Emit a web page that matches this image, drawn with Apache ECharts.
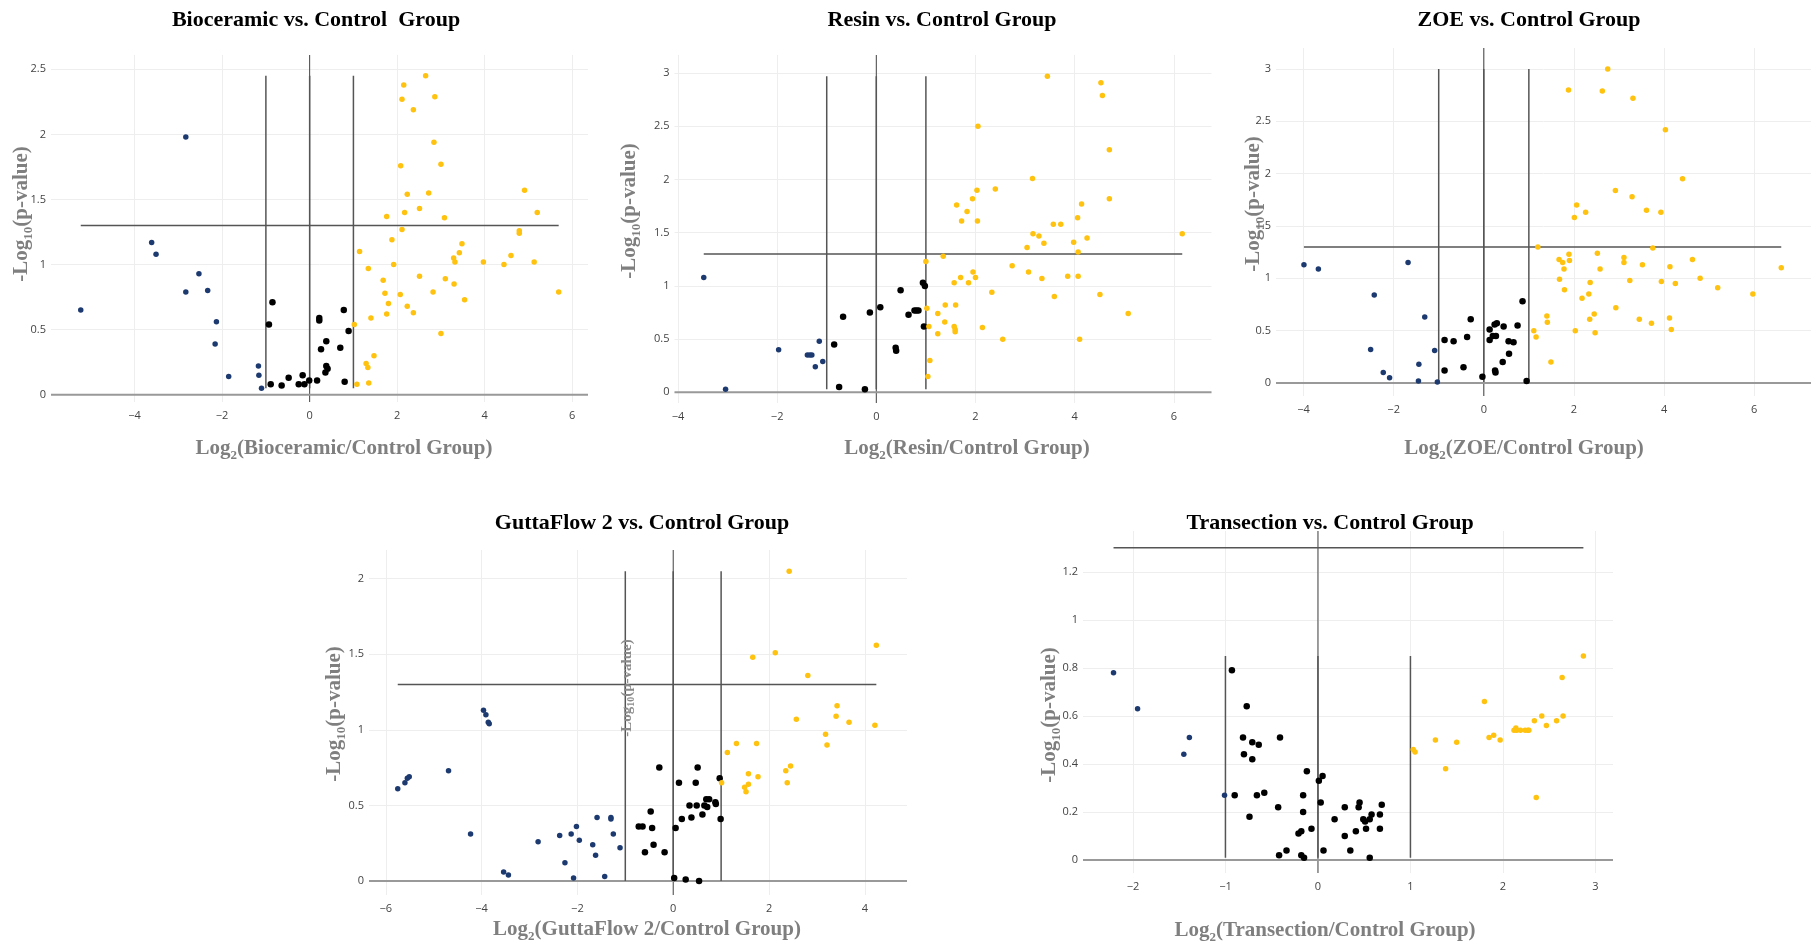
<!DOCTYPE html>
<html>
<head>
<meta charset="utf-8">
<script src="https://cdn.jsdelivr.net/npm/echarts@6/dist/echarts.min.js"></script>
<style>html,body{margin:0;padding:0;background:#fff;}#chart{width:1811px;height:946px;}</style>
</head>
<body>
<div id="chart"></div>
<script>
// ---------- DATA ----------
const pThreshold = 1.3;
const fcThresholds = [-1, 0, 1];

// Bioceramic
const bioBlue = [[-5.23,0.65],[-2.83,1.98],[-3.61,1.17],[-3.51,1.08],[-2.53,0.93],[-2.83,0.79],[-2.33,0.80],[-2.13,0.56],[-2.16,0.39],[-1.85,0.14],[-1.17,0.22],[-1.16,0.15],[-1.10,0.05]];
const bioBlack = [[-0.85,0.71],[-0.93,0.54],[-0.89,0.08],[-0.64,0.07],[-0.48,0.13],[-0.25,0.08],[-0.16,0.15],[-0.12,0.08],[-0.01,0.11],[0.17,0.11],[0.22,0.59],[0.22,0.57],[0.26,0.35],[0.38,0.41],[0.36,0.17],[0.38,0.22],[0.41,0.20],[0.70,0.36],[0.78,0.65],[0.89,0.49],[0.80,0.10]];
const bioYellow = [[1.02,0.54],[1.08,0.08],[1.14,1.10],[1.34,0.97],[1.40,0.59],[1.29,0.24],[1.33,0.21],[1.35,0.09],[1.47,0.30],[1.68,0.88],[1.72,0.78],[1.76,1.37],[1.76,0.62],[1.80,0.70],[1.88,1.19],[1.92,1.00],[2.08,1.76],[2.07,0.77],[2.11,1.27],[2.11,2.27],[2.15,2.38],[2.17,1.40],[2.23,1.54],[2.23,0.68],[2.37,2.19],[2.37,0.63],[2.51,1.43],[2.51,0.91],[2.65,2.45],[2.72,1.55],[2.82,0.79],[2.84,1.94],[2.86,2.29],[3.00,1.77],[3.00,0.47],[3.08,1.36],[3.10,0.89],[3.29,1.05],[3.32,1.02],[3.30,0.85],[3.42,1.09],[3.48,1.16],[3.54,0.73],[3.97,1.02],[4.44,1.00],[4.60,1.07],[4.79,1.26],[4.79,1.24],[4.91,1.57],[5.13,1.02],[5.20,1.40],[5.69,0.79]];

// Resin
const resinBlue = [[-3.48,1.08],[-3.04,0.03],[-1.97,0.40],[-1.39,0.35],[-1.34,0.35],[-1.30,0.35],[-1.23,0.24],[-1.15,0.48],[-1.08,0.29]];
const resinBlack = [[-0.85,0.45],[-0.75,0.05],[-0.67,0.71],[-0.23,0.03],[-0.13,0.75],[0.08,0.80],[0.39,0.42],[0.40,0.39],[0.49,0.96],[0.65,0.73],[0.77,0.77],[0.81,0.77],[0.85,0.77],[0.94,1.03],[0.98,1.00],[0.96,0.62]];
const resinYellow = [[1.00,1.23],[1.02,0.79],[1.04,0.15],[1.06,0.62],[1.08,0.30],[1.24,0.74],[1.24,0.55],[1.35,1.28],[1.39,0.82],[1.38,0.66],[1.57,1.03],[1.57,0.62],[1.59,0.59],[1.59,0.57],[1.60,0.82],[1.62,1.76],[1.70,1.08],[1.72,1.61],[1.83,1.70],[1.86,1.03],[1.94,1.82],[1.95,1.13],[2.00,1.08],[2.03,1.90],[2.04,1.61],[2.05,2.50],[2.14,0.61],[2.33,0.94],[2.40,1.91],[2.55,0.50],[2.74,1.19],[3.04,1.36],[3.07,1.13],[3.15,2.01],[3.16,1.49],[3.28,1.47],[3.34,1.07],[3.38,1.40],[3.45,2.97],[3.57,1.58],[3.59,0.90],[3.72,1.58],[3.86,1.09],[3.98,1.41],[4.06,1.64],[4.07,1.09],[4.07,1.32],[4.10,0.50],[4.14,1.77],[4.25,1.45],[4.51,0.92],[4.53,2.91],[4.56,2.79],[4.70,2.28],[4.70,1.82],[5.08,0.74],[6.17,1.49]];

// ZOE
const zoeBlue = [[-3.99,1.13],[-3.67,1.09],[-1.68,1.15],[-2.43,0.84],[-1.31,0.63],[-2.51,0.32],[-1.09,0.31],[-1.44,0.18],[-2.23,0.10],[-2.09,0.05],[-1.45,0.02],[-1.03,0.01]];
const zoeBlack = [[-0.87,0.41],[-0.67,0.40],[-0.87,0.12],[-0.45,0.15],[-0.37,0.44],[-0.29,0.61],[-0.03,0.06],[0.13,0.51],[0.13,0.41],[0.20,0.45],[0.24,0.56],[0.29,0.57],[0.27,0.45],[0.25,0.12],[0.26,0.10],[0.44,0.54],[0.42,0.20],[0.55,0.40],[0.56,0.28],[0.66,0.39],[0.75,0.55],[0.86,0.78],[0.95,0.02]];
const zoeYellow = [[1.11,0.50],[1.16,0.44],[1.20,1.30],[1.40,0.64],[1.41,0.58],[1.49,0.20],[1.67,1.18],[1.68,0.99],[1.75,1.15],[1.78,1.09],[1.79,0.89],[1.88,2.80],[1.89,1.23],[1.90,1.17],[2.01,1.58],[2.03,0.50],[2.06,1.70],[2.18,0.81],[2.26,1.63],[2.33,0.85],[2.35,0.61],[2.36,0.96],[2.45,0.66],[2.47,0.48],[2.52,1.24],[2.58,1.09],[2.63,2.79],[2.75,3.00],[2.92,1.84],[2.93,0.72],[3.11,1.20],[3.11,1.15],[3.24,0.98],[3.29,1.78],[3.31,2.72],[3.45,0.61],[3.52,1.13],[3.61,1.65],[3.72,0.57],[3.75,1.29],[3.93,1.63],[3.94,0.97],[4.03,2.42],[4.12,0.62],[4.13,1.11],[4.16,0.51],[4.25,0.95],[4.41,1.95],[4.63,1.18],[4.80,1.00],[5.19,0.91],[5.97,0.85],[6.60,1.10]];

// GuttaFlow 2
const guttaBlue = [[-5.75,0.61],[-5.60,0.65],[-5.55,0.68],[-5.51,0.69],[-4.69,0.73],[-4.23,0.31],[-3.96,1.13],[-3.91,1.10],[-3.86,1.05],[-3.84,1.04],[-3.54,0.06],[-3.44,0.04],[-2.82,0.26],[-2.37,0.30],[-2.26,0.12],[-2.13,0.31],[-2.02,0.36],[-2.08,0.02],[-1.96,0.27],[-1.68,0.24],[-1.62,0.17],[-1.59,0.42],[-1.43,0.03],[-1.30,0.42],[-1.30,0.41],[-1.25,0.31],[-1.11,0.22]];
const guttaBlack = [[-0.72,0.36],[-0.64,0.36],[-0.59,0.19],[-0.47,0.46],[-0.44,0.35],[-0.41,0.24],[-0.29,0.75],[-0.18,0.19],[0.02,0.02],[0.05,0.35],[0.12,0.65],[0.18,0.41],[0.26,0.01],[0.34,0.50],[0.38,0.42],[0.47,0.65],[0.49,0.50],[0.51,0.75],[0.54,0.00],[0.61,0.44],[0.65,0.50],[0.69,0.54],[0.71,0.49],[0.75,0.54],[0.88,0.52],[0.89,0.51],[0.97,0.68],[0.99,0.41]];
const guttaYellow = [[1.01,0.65],[1.13,0.85],[1.32,0.91],[1.49,0.62],[1.52,0.59],[1.57,0.64],[1.57,0.71],[1.66,1.48],[1.74,0.91],[1.77,0.69],[2.13,1.51],[2.35,0.73],[2.38,0.65],[2.42,2.05],[2.45,0.76],[2.57,1.07],[2.81,1.36],[3.18,0.97],[3.21,0.90],[3.40,1.09],[3.42,1.16],[3.67,1.05],[4.21,1.03],[4.24,1.56]];

// Transection
const transBlue = [[-2.21,0.78],[-1.95,0.63],[-1.39,0.51],[-1.45,0.44],[-1.01,0.27]];
const transBlack = [[-0.93,0.79],[-0.90,0.27],[-0.77,0.64],[-0.81,0.51],[-0.80,0.44],[-0.71,0.49],[-0.64,0.48],[-0.71,0.42],[-0.74,0.18],[-0.66,0.27],[-0.58,0.28],[-0.43,0.22],[-0.41,0.51],[-0.42,0.02],[-0.34,0.04],[-0.21,0.11],[-0.18,0.12],[-0.18,0.02],[-0.16,0.27],[-0.16,0.20],[-0.15,0.01],[-0.12,0.37],[-0.07,0.13],[0.01,0.33],[0.03,0.24],[0.05,0.35],[0.06,0.04],[0.18,0.17],[0.29,0.10],[0.29,0.22],[0.35,0.04],[0.41,0.12],[0.44,0.22],[0.45,0.24],[0.49,0.17],[0.51,0.16],[0.52,0.13],[0.56,0.17],[0.58,0.19],[0.56,0.01],[0.67,0.19],[0.67,0.13],[0.69,0.23]];
const transYellow = [[1.03,0.46],[1.05,0.45],[1.27,0.50],[1.38,0.38],[1.50,0.49],[1.80,0.66],[1.85,0.51],[1.90,0.52],[1.97,0.50],[2.12,0.54],[2.14,0.55],[2.15,0.54],[2.19,0.54],[2.24,0.54],[2.27,0.54],[2.28,0.54],[2.34,0.58],[2.36,0.26],[2.42,0.60],[2.47,0.56],[2.58,0.58],[2.64,0.76],[2.65,0.60],[2.87,0.85]];

// Tick labels
const ticksX6 = [-4, -2, 0, 2, 4, 6];
const ticksXGutta = [-6, -4, -2, 0, 2, 4];
const ticksXTrans = [-2, -1, 0, 1, 2, 3];
const ticksY25 = [0, 0.5, 1, 1.5, 2, 2.5];
const ticksY3 = [0, 0.5, 1, 1.5, 2, 2.5, 3];
const ticksY2 = [0, 0.5, 1, 1.5, 2];
const ticksYTrans = [0, 0.2, 0.4, 0.6, 0.8, 1, 1.2];

const groupNames = ['Bioceramic', 'Resin', 'ZOE', 'GuttaFlow 2', 'Transection'];
const titles = ['Bioceramic vs. Control  Group', 'Resin vs. Control Group', 'ZOE vs. Control Group', 'GuttaFlow 2 vs. Control Group', 'Transection vs. Control Group'];

// ---------- LAYOUT ----------
const panels = [
  {name: groupNames[0], title: titles[0], sets: [bioBlue, bioBlack, bioYellow], xTicks: ticksX6, yTicks: ticksY25,
   xr: [-5.91, 6.36], yr: [-0.056, 2.61], grid: {left: 51, top: 55, width: 537, height: 347},
   titlePos: [316, 20], xLab: [344, 449], yLab: [22, 214]},
  {name: groupNames[1], title: titles[1], sets: [resinBlue, resinBlack, resinYellow], xTicks: ticksX6, yTicks: ticksY3,
   xr: [-4.07, 6.76], yr: [-0.10, 3.17], grid: {left: 674.5, top: 55, width: 537, height: 348},
   titlePos: [942, 20], xLab: [967, 449], yLab: [630, 211]},
  {name: groupNames[2], title: titles[2], sets: [zoeBlue, zoeBlack, zoeYellow], xTicks: ticksX6, yTicks: ticksY3,
   xr: [-4.61, 7.26], yr: [-0.124, 3.20], grid: {left: 1276, top: 48, width: 535, height: 348},
   titlePos: [1529, 20], xLab: [1524, 449], yLab: [1254, 204]},
  {name: groupNames[3], title: titles[3], sets: [guttaBlue, guttaBlack, guttaYellow], xTicks: ticksXGutta, yTicks: ticksY2,
   xr: [-6.35, 4.88], yr: [-0.093, 2.19], grid: {left: 369, top: 550, width: 538, height: 345},
   titlePos: [642, 523], xLab: [647, 930], yLab: [335, 714]},
  {name: groupNames[4], title: titles[4], sets: [transBlue, transBlack, transYellow], xTicks: ticksXTrans, yTicks: ticksYTrans,
   xr: [-2.54, 3.19], yr: [-0.054, 1.37], grid: {left: 1083, top: 531, width: 530, height: 342},
   titlePos: [1330, 523], xLab: [1325, 931], yLab: [1050, 715]}
];

const colors = ['#1d3a70', '#000000', '#ffc20e'];
const sizes = [5.5, 6.5, 5.5];
const serif = '"Liberation Serif", "Times New Roman", serif';
const axisGray = '#7f7f7f';

function fmt(v) {
  const s = String(Math.round(Math.abs(v) * 100) / 100);
  return v < 0 ? '\u2212' + s : s;
}

const grids = [], xAxes = [], yAxes = [], series = [], graphics = [];

panels.forEach((p, i) => {
  grids.push(Object.assign({containLabel: false}, p.grid));
  xAxes.push({
    type: 'value', gridIndex: i, min: p.xr[0], max: p.xr[1],
    axisLine: {show: false}, axisTick: {show: false, customValues: p.xTicks},
    axisLabel: {customValues: p.xTicks, formatter: fmt, color: '#444', fontFamily: '"Open Sans", sans-serif', fontSize: 11, margin: 8},
    splitLine: {show: true, lineStyle: {color: '#eeeeee', width: 1}}
  });
  yAxes.push({
    type: 'value', gridIndex: i, min: p.yr[0], max: p.yr[1],
    axisLine: {show: false}, axisTick: {show: false, customValues: p.yTicks},
    axisLabel: {customValues: p.yTicks, formatter: fmt, color: '#444', fontFamily: '"Open Sans", sans-serif', fontSize: 11, margin: 5},
    splitLine: {show: true, lineStyle: {color: '#eeeeee', width: 1}}
  });

  const all = [].concat(p.sets[0], p.sets[1], p.sets[2]);
  const xs = all.map(d => d[0]), ys = all.map(d => d[1]);
  const dxMin = Math.min(...xs), dxMax = Math.max(...xs);
  const dyMin = Math.min(...ys), dyMax = Math.max(...ys);

  const lineSeries = (data, color, width, z) => ({
    type: 'line', xAxisIndex: i, yAxisIndex: i, data: data, symbol: 'none', showSymbol: false,
    silent: true, animation: false, z: z, lineStyle: {color: color, width: width}
  });
  // zero lines (full extent)
  series.push(lineSeries([[0, p.yr[0]], [0, p.yr[1]]], '#444', 1, 1));
  series.push(lineSeries([[p.xr[0], 0], [p.xr[1], 0]], '#999', 2, 1));
  // threshold lines spanning the data
  series.push(lineSeries([[dxMin, pThreshold], [dxMax, pThreshold]], '#555', 1.5, 1));
  fcThresholds.forEach(t => series.push(lineSeries([[t, dyMin], [t, dyMax]], '#555', 1.5, 1)));

  p.sets.forEach((set, k) => {
    series.push({
      type: 'scatter', xAxisIndex: i, yAxisIndex: i, data: set, symbol: 'circle', symbolSize: sizes[k],
      itemStyle: {color: colors[k], opacity: 1}, animation: false, z: 3
    });
  });

  graphics.push({
    type: 'text', x: p.titlePos[0], y: p.titlePos[1], z: 10,
    style: {text: p.title, fill: '#000', font: 'bold 22px ' + serif, align: 'center', verticalAlign: 'middle'}
  });
  graphics.push({
    type: 'text', x: p.xLab[0], y: p.xLab[1], z: 10,
    style: {
      text: '{a|Log}{s|2}{a|(' + p.name + '/Control Group)}',
      align: 'center', verticalAlign: 'middle',
      rich: {
        a: {fill: axisGray, fontFamily: serif, fontWeight: 'bold', fontSize: 21, lineHeight: 26, verticalAlign: 'middle'},
        s: {fill: axisGray, fontFamily: serif, fontWeight: 'bold', fontSize: 13, lineHeight: 16, verticalAlign: 'bottom'}
      }
    }
  });
  graphics.push({
    type: 'text', x: p.yLab[0], y: p.yLab[1], rotation: Math.PI / 2, z: 10,
    style: {
      text: '{a|-Log}{s|10}{a|(p-value)}',
      align: 'center', verticalAlign: 'middle',
      rich: {
        a: {fill: axisGray, fontFamily: serif, fontWeight: 'bold', fontSize: 21, lineHeight: 26, verticalAlign: 'middle'},
        s: {fill: axisGray, fontFamily: serif, fontWeight: 'bold', fontSize: 13, lineHeight: 16, verticalAlign: 'bottom'}
      }
    }
  });
});

// stray rotated label inside the GuttaFlow panel
graphics.push({
  type: 'text', x: 627, y: 688, rotation: Math.PI / 2, z: 10,
  style: {
    text: '{a|-Log}{s|10}{a|(p-value)}',
    align: 'center', verticalAlign: 'middle',
    rich: {
      a: {fill: '#8a8a8a', fontFamily: serif, fontWeight: 'bold', fontSize: 15, lineHeight: 18, verticalAlign: 'middle'},
      s: {fill: '#8a8a8a', fontFamily: serif, fontWeight: 'bold', fontSize: 10, lineHeight: 11, verticalAlign: 'bottom'}
    }
  }
});

const chart = echarts.init(document.getElementById('chart'), null, {renderer: 'canvas'});
chart.setOption({
  animation: false,
  backgroundColor: '#fff',
  grid: grids, xAxis: xAxes, yAxis: yAxes, series: series, graphic: graphics
});
</script>
</body>
</html>
